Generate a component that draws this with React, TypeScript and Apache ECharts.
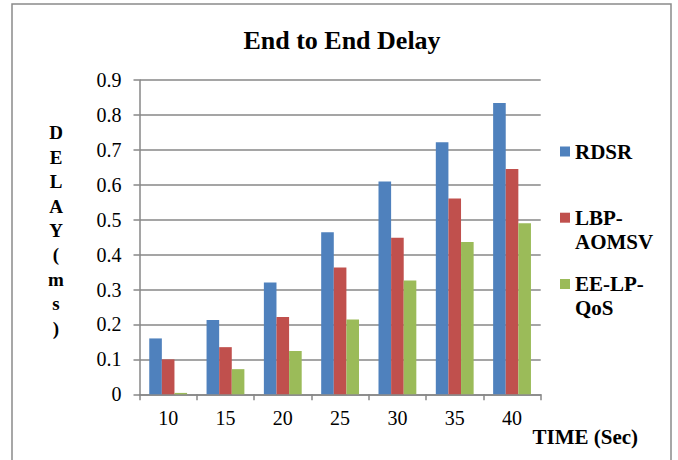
import React, { useEffect, useRef } from "react";
import * as echarts from "echarts";

const categories = ["10", "15", "20", "25", "30", "35", "40"];
const rdsr = [0.16, 0.213, 0.32, 0.464, 0.609, 0.722, 0.834];
const lbpAomsv = [0.1, 0.135, 0.221, 0.363, 0.448, 0.561, 0.645];
const eeLpQos = [0.004, 0.072, 0.124, 0.214, 0.326, 0.436, 0.49];
const seriesNames = ["RDSR", "LBP-AOMSV", "EE-LP-QoS"];
const legendLabels = ["RDSR", "\nLBP-\nAOMSV", "\nEE-LP-\nQoS"];
const colors = ["#4F81BD", "#C0504D", "#9BBB59"];

const FONT = "'Liberation Serif', 'Times New Roman', serif";
const GRID_COLOR = "#878787";

export default function App() {
  const ref = useRef<HTMLDivElement>(null);
  useEffect(() => {
    document.body.style.margin = "0";
    if (!ref.current) return;
    const chart = echarts.init(ref.current, null, { renderer: "svg" });
    const legendTops = [139.5, 181.7, 248];
    chart.setOption({
      animation: false,
      backgroundColor: "#ffffff",
      title: {
        text: "End to End Delay",
        left: 342,
        textAlign: "center",
        top: 27,
        padding: 0,
        textStyle: { fontFamily: FONT, fontWeight: "bold", fontSize: 26, color: "#000" },
      },
      legend: seriesNames.map((n, i) => ({
        data: [n],
        orient: "vertical",
        left: 560,
        top: legendTops[i],
        padding: 0,
        itemWidth: 10,
        itemHeight: 10,
        icon: "rect",
        formatter: () => legendLabels[i],
        textStyle: { fontFamily: FONT, fontWeight: "bold", fontSize: 21, lineHeight: 24, color: "#000" },
      })),
      grid: { left: 139.5, right: 137.3, top: 80, bottom: 65.7, containLabel: false },
      xAxis: {
        type: "category",
        data: categories,
        axisLine: { lineStyle: { color: GRID_COLOR, width: 1.5 } },
        axisTick: { show: true, length: 6, alignWithLabel: false, lineStyle: { color: GRID_COLOR, width: 1.5 } },
        axisLabel: { fontFamily: FONT, fontSize: 20, color: "#000", margin: 14 },
      },
      yAxis: {
        type: "value",
        min: 0,
        max: 0.9,
        interval: 0.1,
        axisLine: { show: true, lineStyle: { color: GRID_COLOR, width: 1.5 } },
        axisTick: { show: true, length: 6, lineStyle: { color: GRID_COLOR, width: 1.5 } },
        splitLine: { show: true, lineStyle: { color: GRID_COLOR, width: 1.5 } },
        axisLabel: {
          fontFamily: FONT,
          fontSize: 20,
          color: "#000",
          margin: 18,
          formatter: (v: number) => (v === 0 ? "0" : v.toFixed(1)),
        },
      },
      series: [rdsr, lbpAomsv, eeLpQos].map((d, i) => ({
        name: seriesNames[i],
        type: "bar",
        data: d,
        barGap: "0%",
        barCategoryGap: "34%",
        itemStyle: { color: colors[i] },
      })),
      graphic: [
        {
          type: "rect",
          shape: { x: 12, y: 4, width: 659, height: 480 },
          style: { fill: "none", stroke: "#8a8a8a", lineWidth: 1.5 },
          silent: true,
        },
        {
          type: "text",
          x: 56,
          y: 230.5,
          style: {
            text: "D\nE\nL\nA\nY\n(\nm\ns\n)",
            fontFamily: FONT,
            fontWeight: "bold",
            fontSize: 19,
            lineHeight: 24.4,
            fill: "#000",
            align: "center",
            verticalAlign: "middle",
          },
        },
        {
          type: "text",
          x: 532.5,
          y: 437,
          style: {
            text: "TIME (Sec)",
            fontFamily: FONT,
            fontWeight: "bold",
            fontSize: 21,
            fill: "#000",
            align: "left",
            verticalAlign: "middle",
          },
        },
      ],
    });
    return () => chart.dispose();
  }, []);
  return <div ref={ref} style={{ width: 678, height: 460 }} />;
}
